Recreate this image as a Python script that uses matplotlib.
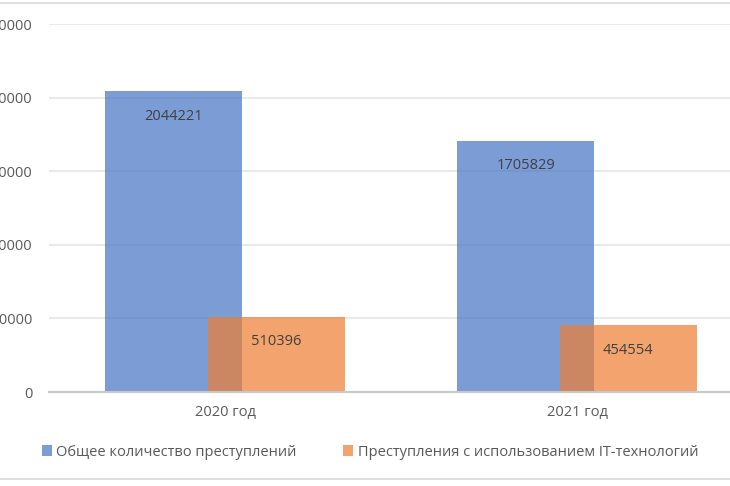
import matplotlib
matplotlib.use("Agg")
import matplotlib.pyplot as plt
import numpy as np
from matplotlib.lines import Line2D

plt.rcParams['font.family'] = ['Open Sans', 'DejaVu Sans']

years = ["2020 год", "2021 год"]
total_crimes = [2044221, 1705829]
it_crimes = [510396, 454554]
series_names = ["Общее количество преступлений",
                "Преступления с использованием IT-технологий"]
yticks = [0, 500000, 1000000, 1500000, 2000000, 2500000]

fig = plt.figure(figsize=(7.3, 4.86), dpi=100)
# axes runs past the right edge, the source picture is cropped
ax = fig.add_axes([49 / 730, 94 / 486, 704 / 730, 368 / 486])

x = np.arange(len(years))
w = 0.39
off = 0.146
b1 = ax.bar(x - off, total_crimes, w, color="#4472C4", alpha=0.7,
            label=series_names[0], zorder=2)
b2 = ax.bar(x + off, it_crimes, w, color="#ED7D31", alpha=0.7,
            label=series_names[1], zorder=3)

for bars, vals in ((b1, total_crimes), (b2, it_crimes)):
    for r, v in zip(bars, vals):
        ax.annotate(str(v), (r.get_x() + r.get_width() / 2, v),
                    xytext=(0, -18), textcoords="offset points",
                    ha="center", va="center", fontsize=10.5,
                    color="#404040", zorder=5)

ax.set_xlim(-0.5, 1.5)
ax.set_ylim(0, 2500000)
ax.set_yticks(yticks)
ax.set_yticklabels([str(v) for v in yticks])
ax.set_xticks(x)
ax.set_xticklabels(years)
ax.tick_params(axis="both", length=0, labelsize=10.5, labelcolor="#595959")
ax.tick_params(axis="y", pad=12)
ax.tick_params(axis="x", pad=9)
ax.yaxis.grid(True, color="#E6E6E6", linewidth=1.2, zorder=0)
ax.set_axisbelow(True)
for s in ("top", "right", "left"):
    ax.spines[s].set_visible(False)
ax.spines["bottom"].set_color("#C8C8C8")
ax.spines["bottom"].set_linewidth(1.5)
ax.spines["bottom"].set_zorder(4)

fig.legend(handles=[b1, b2], loc="center", bbox_to_anchor=(370 / 730, 1 - 452 / 486),
           ncol=2, frameon=False, fontsize=10.5, labelcolor="#595959",
           handlelength=0.7, handleheight=0.7, handletextpad=0.3,
           columnspacing=3.2)

# thin frame lines of the chart area
fig.add_artist(Line2D([0, 1], [1 - 3 / 486, 1 - 3 / 486], color="#D9D9D9",
                      linewidth=1.2, transform=fig.transFigure))
fig.add_artist(Line2D([0, 1], [1 - 479 / 486, 1 - 479 / 486], color="#D9D9D9",
                      linewidth=1.2, transform=fig.transFigure))

fig.savefig("out.png", dpi=100)
